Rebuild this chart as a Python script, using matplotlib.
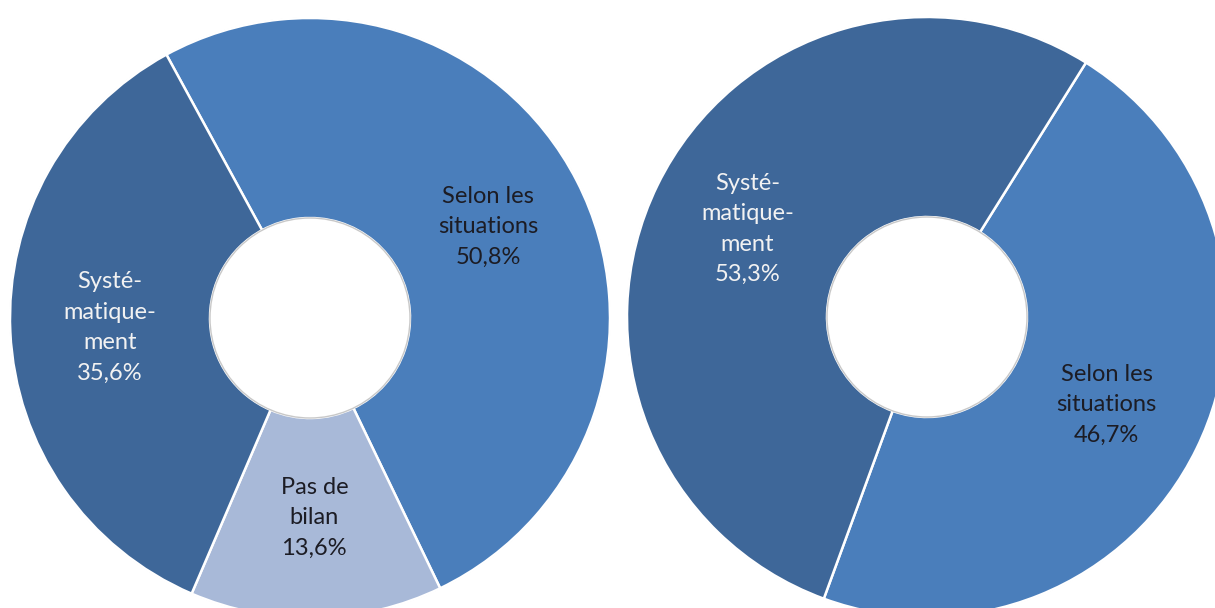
import matplotlib
matplotlib.use("Agg")
import matplotlib.pyplot as plt

# left donut
left_labels = ["Selon les\nsituations", "Pas de\nbilan", "Systé-\nmatique-\nment"]
left_values = [50.8, 13.6, 35.6]
left_colors = ["#4A7EBB", "#A8B9D8", "#3E6799"]
left_text = ["#1C1C24", "#1C1C24", "#F2F2F2"]

# right donut
right_labels = ["Selon les\nsituations", "Systé-\nmatique-\nment"]
right_values = [46.7, 53.3]
right_colors = ["#4A7EBB", "#3E6799"]
right_text = ["#1C1C24", "#F2F2F2"]

plt.rcParams["font.family"] = ["Lato", "DejaVu Sans"]

fig = plt.figure(figsize=(12.15, 6.08), dpi=100)
ax = fig.add_axes([0, 0, 1, 1])

R = 300
HOLE = 100


def donut(values, labels, colors, tcolors, center, start):
    wedges, _, autos = ax.pie(
        values, colors=colors, center=center, radius=R, startangle=start,
        counterclock=False, autopct="%1.1f%%", pctdistance=(R + HOLE) / 2 / R,
        wedgeprops=dict(width=R - HOLE, edgecolor="white", linewidth=1.8),
        textprops=dict(fontsize=17, linespacing=1.55))
    for t, lab, v, c in zip(autos, labels, values, tcolors):
        t.set_text(f"{lab}\n{v:.1f}%".replace(".", ","))
        t.set_color(c)
    # thin grey rims like the original shading
    ax.add_patch(plt.Circle(center, R, fill=False, ec="#BBBBBB", lw=0.8, zorder=0))
    ax.add_patch(plt.Circle(center, HOLE, fill=False, ec="#C8C8C8", lw=1.0, zorder=3))


donut(left_values, left_labels, left_colors, left_text, (310, 290), 118.6)
donut(right_values, right_labels, right_colors, right_text, (927, 291), 58)

ax.set_xlim(0, 1215)
ax.set_ylim(0, 608)
ax.set_aspect("equal")
ax.axis("off")

fig.savefig("out.png", dpi=100, facecolor="white")
